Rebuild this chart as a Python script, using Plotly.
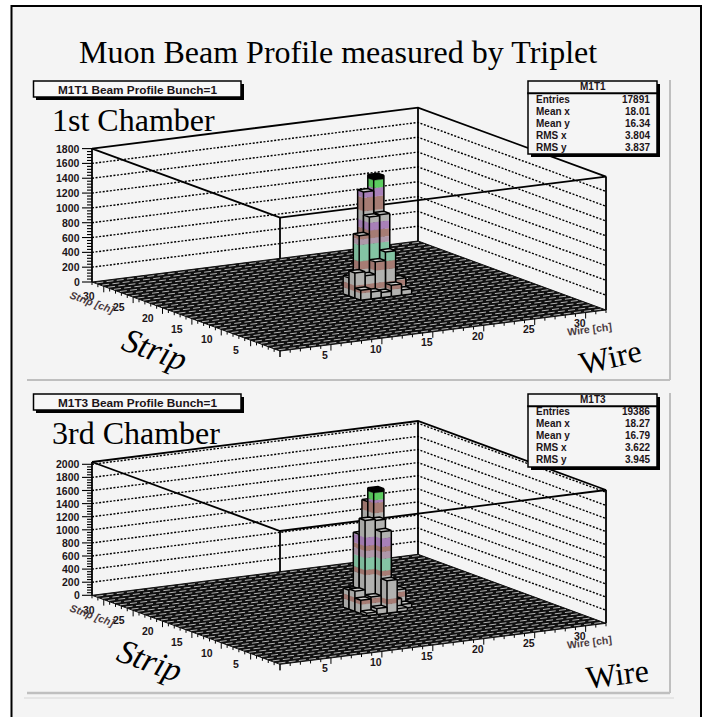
import plotly.graph_objects as go

# ---------- data ----------
PAGE_TITLE = "Muon Beam Profile measured by Triplet"

M1T1_WIRE   = [19, 18, 18, 19, 17, 18, 19, 16, 17, 20, 20, 19, 18, 17, 16, 16, 20, 19, 20]
M1T1_STRIP  = [17, 17, 16, 16, 16, 15, 15, 15, 15, 15, 14, 14, 14, 14, 14, 16, 16, 18, 17]
M1T1_COUNTS = [1530, 1340, 1030, 1045, 795, 455, 570, 340, 285, 190, 70, 150, 70, 95, 135, 245, 100, 800, 250]

M1T3_WIRE   = [19, 19, 17, 18, 18, 17, 18, 19, 18, 16, 17, 16, 16, 20, 19, 19, 17, 19, 20, 16]
M1T3_STRIP  = [17, 18, 15, 15, 14, 16, 16, 16, 13, 14, 14, 15, 16, 15, 14, 13, 13, 15, 14, 13]
M1T3_COUNTS = [1730, 1520, 1370, 1350, 1210, 1125, 1280, 1020, 495, 205, 235, 310, 290, 250, 155, 50, 90, 410, 60, 40]

M1T1_STATS = [("Entries", "17891"), ("Mean x", "18.01"), ("Mean y", "16.34"), ("RMS x", "3.804"), ("RMS y", "3.837")]
M1T3_STATS = [("Entries", "19386"), ("Mean x", "18.27"), ("Mean y", "16.79"), ("RMS x", "3.622"), ("RMS y", "3.945")]

N_BINS = 32
WIRE_TICKS = [5, 10, 15, 20, 25, 30]
STRIP_TICKS = [5, 10, 15, 20, 25, 30]
M1T1_Z_TICKS = [0, 200, 400, 600, 800, 1000, 1200, 1400, 1600, 1800]
M1T3_Z_TICKS = [0, 200, 400, 600, 800, 1000, 1200, 1400, 1600, 1800, 2000]
M1T1_ZMAX = 1800
M1T3_ZMAX = 2035

M1T1_BAND_EDGES = [0, .062, .108, .222, .294, .438, .484, .555, .62, .706, .824, .90, .967, 1.05]
M1T3_BAND_EDGES = [0, .08, .12, .31, .354, .46, .52, .566, .637, .795, .885, .91, .973, 1.05]
GRAY, BROWN, MINT, DUSTY, PURPLE, GREEN, BLACK = "#b2b2b0", "#a67c74", "#84c4a4", "#ae98aa", "#a880b8", "#5ccc60", "#000000"
BAND_COLORS = [GRAY, BROWN, GRAY, BROWN, MINT, DUSTY, BROWN, PURPLE, GRAY, BROWN, PURPLE, GREEN, BLACK]

# ---------- projection of the lego box onto the page ----------
X0, Y0 = 280.0, 351.0
WX, WY = 326.0 / N_BINS, -41.0 / N_BINS
SX, SY = -188.0 / N_BINS, -69.0 / N_BINS
SERIF = "Liberation Serif"
SANS = "Liberation Sans"
INK = "#1c1418"

fig = go.Figure()


def shade(c, f):
    r, g, b = int(c[1:3], 16), int(c[3:5], 16), int(c[5:7], 16)
    return "#%02x%02x%02x" % (int(r * f), int(g * f), int(b * f))


def add_text(x, y, text, size, family=SANS, bold=False, italic=False, angle=0, anchor="center", color=INK):
    fig.add_annotation(x=x, y=y, xref="x", yref="y", text=f"<b>{text}</b>" if bold else text,
                       showarrow=False, xanchor=anchor, yanchor="middle", textangle=angle, borderpad=0,
                       font=dict(family=family, size=size, color=color, style="italic" if italic else "normal"))


def rect(x0, y0, x1, y1, fill="rgba(0,0,0,0)", line=None, width=1.5, layer="above"):
    fig.add_shape(type="rect", xref="x", yref="y", x0=x0, y0=y0, x1=x1, y1=y1, fillcolor=fill, layer=layer,
                  line=dict(color=line or "rgba(0,0,0,0)", width=width if line else 0))


def path(xs, ys, color="#000000", width=1.5, dash="solid", fill=None):
    fig.add_trace(go.Scatter(x=xs, y=ys, mode="lines", hoverinfo="skip", showlegend=False,
                             line=dict(color=color, width=width, dash=dash),
                             fill="toself" if fill else "none", fillcolor=fill))


def draw_lego(dy, wires, strips, counts, zmax, z_ticks, band_edges, scale, title, name, stats, pill_y, stat_y, row_y,
              big_label, big_y, strip_xy, strip_ang, wire_xy, wire_ang, grid_top):

    def P(w, s, z=0.0):
        return X0 + w * WX + s * SX, Y0 + dy + w * WY + s * SY - z * scale

    def line3(pts, **kw):
        q = [P(*p) for p in pts]
        path([a for a, _ in q], [b for _, b in q], **kw)

    # wall grid (dotted)
    for z in z_ticks:
        if z == 0 or (z >= zmax and not grid_top):
            continue
        line3([(0, N_BINS, z), (N_BINS, N_BINS, z), (N_BINS, 0, z)], width=1.4, dash="2px,1.6px")

    # box frame
    line3([(0, N_BINS, zmax), (N_BINS, N_BINS, zmax), (N_BINS, 0, zmax), (0, 0, zmax), (0, N_BINS, zmax)], width=1.8)
    for w, s in [(0, N_BINS), (N_BINS, N_BINS), (N_BINS, 0), (0, 0)]:
        line3([(w, s, 0), (w, s, zmax)], width=1.8)

    # floor: dark outline plus one pale dash per bin
    q = [P(0, 0), P(N_BINS, 0), P(N_BINS, N_BINS), P(0, N_BINS), P(0, 0)]
    path([a for a, _ in q], [b for _, b in q], color="#101010", width=1, fill="#101010")
    dx, dyy = [], []
    for w in range(N_BINS):
        for s in range(N_BINS):
            a = P(w + .14, s + .5)
            b = P(w + .82, s + .5)
            dx += [a[0], b[0], None]
            dyy += [a[1], b[1], None]
    path(dx, dyy, color="#b4b4b4", width=1)

    # floor-edge ticks
    tx, ty = [], []
    for i in range(N_BINS + 1):
        ln = 6 if i % 5 == 0 else 3
        a = P(i, 0)
        tx += [a[0], a[0], None]
        ty += [a[1], a[1] + ln, None]
        a = P(0, i)
        tx += [a[0], a[0], None]
        ty += [a[1], a[1] + ln, None]
    path(tx, ty, width=1)

    # z axis
    zx = P(0, N_BINS)[0]
    base = P(0, N_BINS)[1]
    tx, ty = [], []
    step = 40
    for k in range(0, int(z_ticks[-1] / step) + 1):
        z = k * step
        ln = 10 if z % 200 == 0 else 5
        tx += [zx - ln, zx, None]
        ty += [base - z * scale, base - z * scale, None]
    path(tx, ty, width=1.1)
    for z in z_ticks:
        add_text(zx - 11, base - z * scale, str(z), 10.5, bold=True, anchor="right")

    # tick labels
    for w in WIRE_TICKS:
        a = P(w, 0)
        add_text(a[0] - 6, a[1] + 10.5, str(w), 10.5, bold=True)
    for s in STRIP_TICKS:
        a = P(0, s)
        add_text(a[0] - 14.5, a[1] + 10, str(s), 10.5, bold=True)

    # bars, back to front
    peak = max(counts)
    order = sorted(zip(wires, strips, counts), key=lambda t: (-t[0], -t[1]))
    for w, s, h in order:
        groups = {}
        for i, c in enumerate(BAND_COLORS):
            z1, z2 = band_edges[i] * peak, min(band_edges[i + 1] * peak, h)
            if z1 >= h:
                break
            for corners, col in (([(w, s), (w, s + 1)], shade(c, .94)), ([(w, s), (w + 1, s)], c)):
                p = [P(*corners[0], z1), P(*corners[1], z1), P(*corners[1], z2), P(*corners[0], z2), P(*corners[0], z1)]
                gx, gy = groups.setdefault(col, ([], []))
                gx += [a for a, _ in p] + [None]
                gy += [b for _, b in p] + [None]
        for col, (gx, gy) in groups.items():
            path(gx, gy, color=col, width=0.3, fill=col)
        top = [(w, s, h), (w + 1, s, h), (w + 1, s + 1, h), (w, s + 1, h), (w, s, h)]
        top_fill = "#000000" if h == peak else "#cfcfcd"
        q = [P(*t) for t in top]
        path([a for a, _ in q], [b for _, b in q], color="#000000", width=1.5, fill=top_fill)
        line3([(w, s + 1, 0), (w, s + 1, h)], width=1.5)
        line3([(w, s, 0), (w, s, h)], width=1.5)
        line3([(w + 1, s, 0), (w + 1, s, h)], width=1.5)
        line3([(w, s + 1, 0), (w, s, 0), (w + 1, s, 0)], width=1.5)

    # title pill
    rect(36, pill_y + 3, 244, pill_y + 19, fill="#000000")
    rect(33.5, pill_y, 241, pill_y + 16, fill="#f7f7f7", line="#000000", width=1.5)
    add_text(137, pill_y + 8.5, title, 11.8, bold=True)

    # stat box
    rect(531, stat_y + 3, 660, stat_y + 76, fill="#000000")
    rect(528, stat_y, 657, stat_y + 73, fill="#f5f5f5", line="#000000", width=1.5)
    rect(528, stat_y + 12, 657, stat_y + 12.5, fill="#000000", line="#000000", width=1.5)
    add_text(592.5, stat_y + 5.5, name, 10, bold=True)
    for i, (k, v) in enumerate(stats):
        add_text(535, row_y + i * 12, k, 10, bold=True, anchor="left")
        add_text(650.5, row_y + i * 12, v, 10, bold=True, anchor="right")

    # hand-written captions
    add_text(51, big_y, big_label, 32, family=SERIF, anchor="left", color="#000000")
    add_text(strip_xy[0], strip_xy[1], "Strip", 34, family=SERIF, italic=True, angle=strip_ang, color="#000000")
    add_text(wire_xy[0], wire_xy[1], "Wire", 32, family=SERIF, angle=wire_ang, color="#000000")
    add_text(92, 302 + dy, "Strip [ch]", 10.5, italic=True, bold=True, angle=20, color="#4a3a40")
    add_text(589, 329 + dy, "Wire [ch]", 10.5, bold=True, angle=-7, color="#4a3a40")


# page
rect(11.5, 6, 701, 740, fill="#f4f4f4", line="#000000", width=2, layer="below")
for seg, w in [((27, 380, 670, 380), 2), ((670, 80, 670, 380), 2), ((27, 693, 670, 693), 2.5), ((670, 393, 670, 693), 2)]:
    fig.add_shape(type="line", xref="x", yref="y", x0=seg[0], y0=seg[1], x1=seg[2], y1=seg[3], layer="below",
                  line=dict(color="#bfbfbf", width=w))
fig.add_shape(type="line", xref="x", yref="y", x0=24, y0=698, x1=674, y1=698, layer="below",
              line=dict(color="#d6d6d6", width=1))

add_text(338, 52, PAGE_TITLE, 32, family=SERIF, color="#000000")

draw_lego(0, M1T1_WIRE, M1T1_STRIP, M1T1_COUNTS, M1T1_ZMAX, M1T1_Z_TICKS, M1T1_BAND_EDGES, 133.4 / 1800,
          "M1T1 Beam Profile Bunch=1", "M1T1",
          M1T1_STATS, 81, 81, 99, "1st Chamber", 120, (155, 349), 20, (610, 357), -13, False)
draw_lego(313.3, M1T3_WIRE, M1T3_STRIP, M1T3_COUNTS, M1T3_ZMAX, M1T3_Z_TICKS, M1T3_BAND_EDGES, 131.0 / 2000,
          "M1T3 Beam Profile Bunch=1", "M1T3",
          M1T3_STATS, 394, 394, 411, "3rd Chamber", 433, (150, 660), 20, (617, 674), -7, True)

fig.update_layout(width=708, height=717, margin=dict(l=0, r=0, t=0, b=0), paper_bgcolor="#ffffff",
                  plot_bgcolor="#ffffff", showlegend=False,
                  xaxis=dict(range=[0, 708], visible=False, fixedrange=True),
                  yaxis=dict(range=[717, 0], visible=False, fixedrange=True))

fig.write_html("out.html", config={"displayModeBar": False},
               post_script="document.body.style.margin='0';document.body.style.overflow='hidden';")
